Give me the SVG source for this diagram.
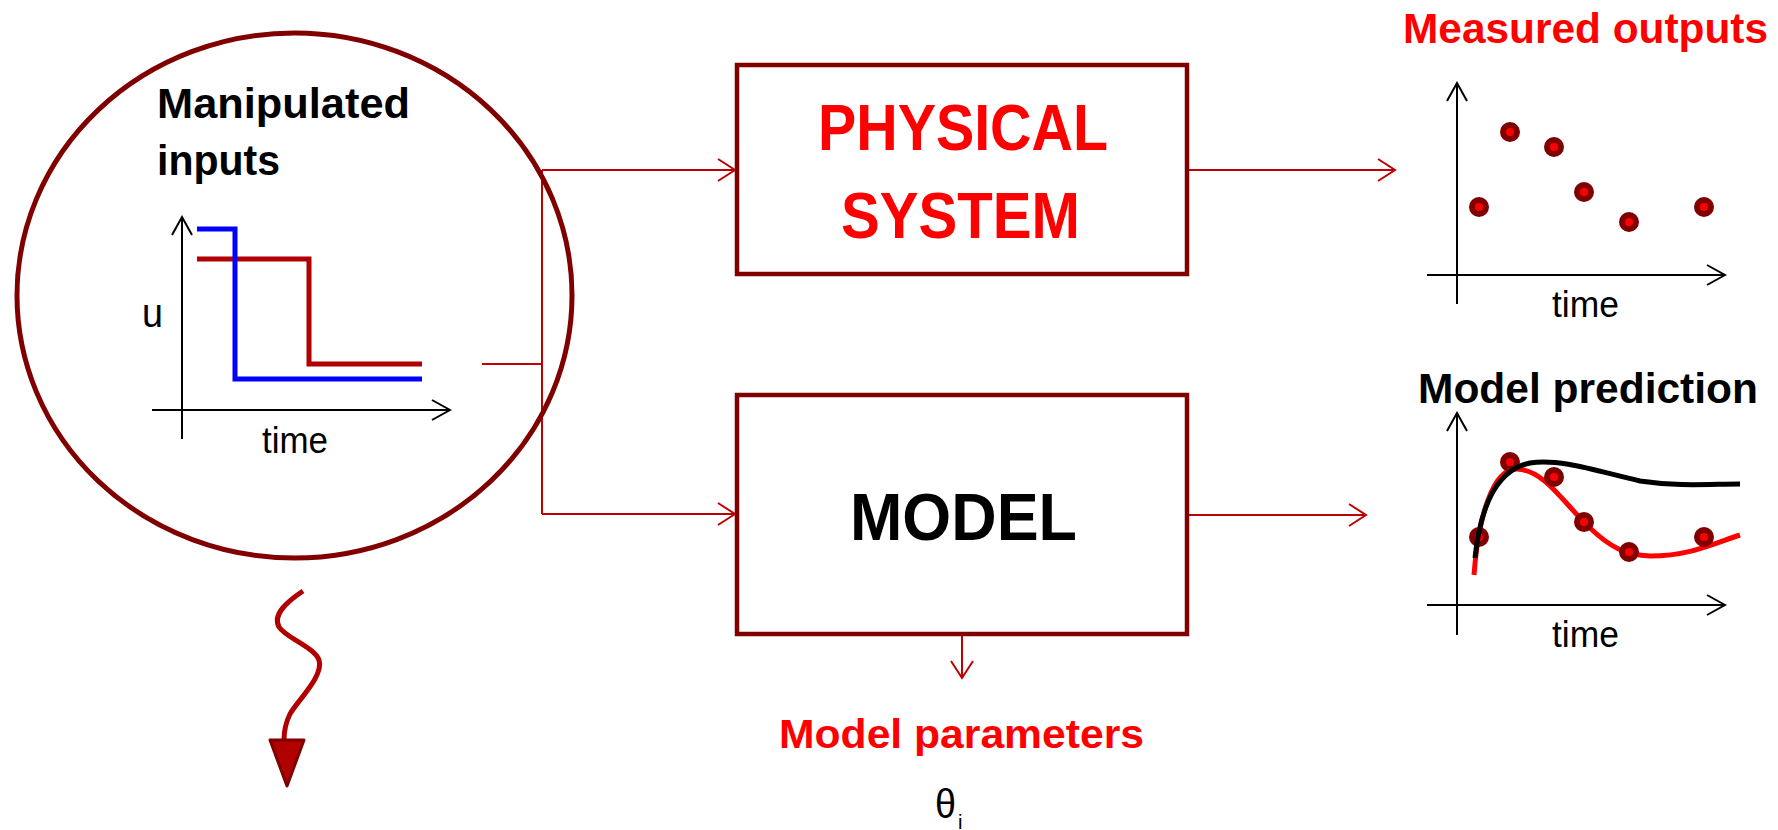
<svg xmlns="http://www.w3.org/2000/svg" width="1778" height="830" viewBox="0 0 1778 830">
<style>
.bold{font-family:"Liberation Sans",Arial,sans-serif;font-weight:bold}
.reg{font-family:"Liberation Sans",Arial,sans-serif}
.box{fill:#fff;stroke:#800000;stroke-width:4.5}
.conn{fill:none;stroke:#c00000;stroke-width:2}
.axis{fill:none;stroke:#000;stroke-width:2}
.pt{fill:#ff0000;stroke:#800000;stroke-width:6}
</style>
<defs>
<marker id="chev" viewBox="0 0 20 24" refX="18" refY="12" markerWidth="20" markerHeight="24" markerUnits="userSpaceOnUse" orient="auto">
<path d="M1,1 L18,12 L1,23" fill="none" stroke="#c00000" stroke-width="2"/>
</marker>
<marker id="ax" viewBox="0 0 22 24" refX="20" refY="12" markerWidth="22" markerHeight="24" markerUnits="userSpaceOnUse" orient="auto">
<path d="M2,2 L20,12 L2,22" fill="none" stroke="#000" stroke-width="2"/>
</marker>
</defs>
<rect width="1778" height="830" fill="#fff"/>

<g id="connectors">
<path class="conn" d="M482,364 L542,364"/>
<path class="conn" d="M542,170 L542,514"/>
<path class="conn" d="M542,170 L735,170" marker-end="url(#chev)"/>
<path class="conn" d="M542,514 L735,514" marker-end="url(#chev)"/>
<path class="conn" d="M1187,170 L1395,170" marker-end="url(#chev)"/>
<path class="conn" d="M1187,515 L1366,515" marker-end="url(#chev)"/>
<path class="conn" d="M962,634 L962,678" marker-end="url(#chev)"/>
</g>

<g id="inputs">
<ellipse cx="294.5" cy="295.5" rx="277.5" ry="262.5" fill="none" stroke="#800000" stroke-width="5"/>
<text class="bold" x="157" y="118" font-size="42" textLength="253" lengthAdjust="spacingAndGlyphs">Manipulated</text>
<text class="bold" x="157" y="175" font-size="42" textLength="123" lengthAdjust="spacingAndGlyphs">inputs</text>
<path class="axis" d="M182,439 L182,217" marker-end="url(#ax)"/>
<path class="axis" d="M152,410 L450,410" marker-end="url(#ax)"/>
<path d="M197,259 L309,259 L309,364 L422,364" fill="none" stroke="#b00000" stroke-width="5"/>
<path d="M197,229 L235,229 L235,379 L422,379" fill="none" stroke="#0000ff" stroke-width="5"/>
<text class="reg" x="142" y="327" font-size="40" textLength="21" lengthAdjust="spacingAndGlyphs">u</text>
<text class="reg" x="262" y="453" font-size="37" textLength="66" lengthAdjust="spacingAndGlyphs">time</text>
</g>

<g id="squiggle">
<path d="M303,591 C288,601 272,614 279,627 C286,638 314,647 319,660 C324,676 298,700 290,714 C285,724 284,732 284,740" fill="none" stroke="#b00000" stroke-width="5"/>
<path d="M270,740 L304,740 L287,786 Z" fill="#b00000" stroke="#800000" stroke-width="3" stroke-linejoin="round"/>
</g>

<g id="physical">
<rect class="box" x="737" y="65" width="450" height="209"/>
<text class="bold" x="818" y="150" font-size="64" fill="#ff0000" textLength="290" lengthAdjust="spacingAndGlyphs">PHYSICAL</text>
<text class="bold" x="841" y="238" font-size="64" fill="#ff0000" textLength="239" lengthAdjust="spacingAndGlyphs">SYSTEM</text>
</g>

<g id="model">
<rect class="box" x="737" y="395" width="450" height="239"/>
<text class="bold" x="850" y="540" font-size="66" fill="#000" textLength="227" lengthAdjust="spacingAndGlyphs">MODEL</text>
</g>

<g id="parameters">
<text class="bold" x="779" y="748" font-size="41" fill="#ff0000" textLength="365" lengthAdjust="spacingAndGlyphs">Model parameters</text>
<text class="reg" x="935" y="818" font-size="40" textLength="21" lengthAdjust="spacingAndGlyphs">θ</text>
<text class="reg" x="958" y="829" font-size="20">i</text>
</g>

<g id="measured">
<text class="bold" x="1403" y="43" font-size="42" fill="#ff0000" textLength="365" lengthAdjust="spacingAndGlyphs">Measured outputs</text>
<path class="axis" d="M1457,304 L1457,83" marker-end="url(#ax)"/>
<path class="axis" d="M1427,275 L1725,275" marker-end="url(#ax)"/>
<circle class="pt" cx="1479" cy="207" r="7"/>
<circle class="pt" cx="1510" cy="132" r="7"/>
<circle class="pt" cx="1554" cy="147" r="7"/>
<circle class="pt" cx="1584" cy="192" r="7"/>
<circle class="pt" cx="1629" cy="222" r="7"/>
<circle class="pt" cx="1704" cy="207" r="7"/>
<text class="reg" x="1552" y="317" font-size="37" textLength="67" lengthAdjust="spacingAndGlyphs">time</text>
</g>

<g id="prediction">
<text class="bold" x="1418" y="403" font-size="42" fill="#000" textLength="340" lengthAdjust="spacingAndGlyphs">Model prediction</text>
<path class="axis" d="M1457,635 L1457,413" marker-end="url(#ax)"/>
<path class="axis" d="M1427,605 L1725,605" marker-end="url(#ax)"/>
<path d="M1474,575 C1478,520 1492,468 1517,469 C1545,470 1565,505 1590,528 C1610,547 1625,555 1650,556 C1690,556 1715,543 1740,535" fill="none" stroke="#ff0000" stroke-width="5"/>
<circle class="pt" cx="1479" cy="537" r="7"/>
<circle class="pt" cx="1510" cy="462" r="7"/>
<circle class="pt" cx="1554" cy="477" r="7"/>
<circle class="pt" cx="1584" cy="522" r="7"/>
<circle class="pt" cx="1629" cy="552" r="7"/>
<circle class="pt" cx="1704" cy="537" r="7"/>
<path d="M1475,558 C1480,510 1495,470 1530,463 C1560,458 1600,472 1640,481 C1680,487 1710,484 1740,484" fill="none" stroke="#000" stroke-width="5"/>
<text class="reg" x="1552" y="647" font-size="37" textLength="67" lengthAdjust="spacingAndGlyphs">time</text>
</g>
</svg>
